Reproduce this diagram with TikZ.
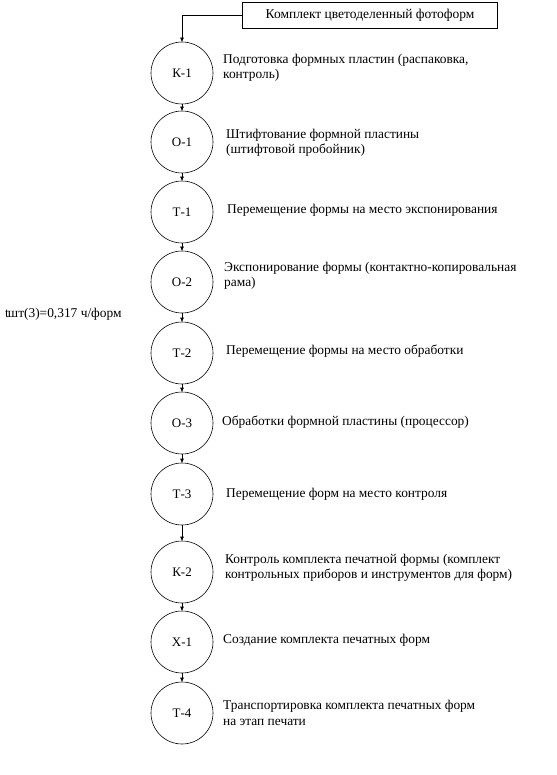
\documentclass[tikz,border=0pt]{standalone}
\usepackage{fontspec}
\setmainfont{Liberation Serif}
\usetikzlibrary{arrows.meta}
\begin{document}
\begin{tikzpicture}[x=1pt,y=-1pt,
  op/.style={draw,circle,minimum size=62pt,inner sep=0pt,line width=0.6pt,font=\fontsize{13}{15}\selectfont},
  lbl/.style={anchor=west,align=left,inner sep=0pt,font=\fontsize{13.4}{15.5}\selectfont},
  flow/.style={line width=0.6pt,-{Triangle[length=4pt,width=3.5pt]}}]
\useasboundingbox (0,0) rectangle (556,775);
\node[draw,line width=0.6pt,minimum width=255pt,minimum height=26pt,inner sep=0pt,font=\fontsize{13.5}{15}\selectfont] (top) at (370,15) {Комплект цветоделенный фотоформ};
\node[op] (k1) at (182,73) {К-1};
\node[op] (o1) at (182,142) {О-1};
\node[op] (t1) at (182,212) {Т-1};
\node[op] (o2) at (182,282) {О-2};
\node[op] (t2) at (182,353) {Т-2};
\node[op] (o3) at (182,423) {О-3};
\node[op] (t3) at (182,494) {Т-3};
\node[op] (k2) at (182,572) {К-2};
\node[op] (x1) at (182,642) {Х-1};
\node[op] (t4) at (182,713) {Т-4};
\coordinate (bend) at (182,15);
\draw[flow] (top.west) -- (bend) -- (k1.north);
\draw[flow] (k1) -- (o1);
\draw[flow] (o1) -- (t1);
\draw[flow] (t1) -- (o2);
\draw[flow] (o2) -- (t2);
\draw[flow] (t2) -- (o3);
\draw[flow] (o3) -- (t3);
\draw[flow] (t3) -- (k2);
\draw[flow] (k2) -- (x1);
\draw[flow] (x1) -- (t4);
\node[lbl] (lk1) at (223,68) {Подготовка формных пластин (распаковка,\\контроль)};
\node[lbl] (lo1) at (226,143) {Штифтование формной пластины\\(штифтовой пробойник)};
\node[lbl] (lt1) at (227,210) {Перемещение формы на место экспонирования};
\node[lbl] (lo2) at (224,276) {Экспонирование формы (контактно-копировальная\\рама)};
\node[lbl] (lt2) at (226,351) {Перемещение формы на место обработки};
\node[lbl] (lo3) at (222,422) {Обработки формной пластины (процессор)};
\node[lbl] (lt3) at (226,494) {Перемещение форм на место контроля};
\node[lbl] (lk2) at (225,568) {Контроль комплекта печатной формы (комплект\\контрольных приборов и инструментов для форм)};
\node[lbl] (lx1) at (223,640) {Создание комплекта печатных форм};
\node[lbl] (lt4) at (223,713) {Транспортировка комплекта печатных форм\\на этап печати};
\node[lbl] (time) at (5,314) {t\kern-1ptшт(3)=0,317 ч/форм};
\end{tikzpicture}
\end{document}
